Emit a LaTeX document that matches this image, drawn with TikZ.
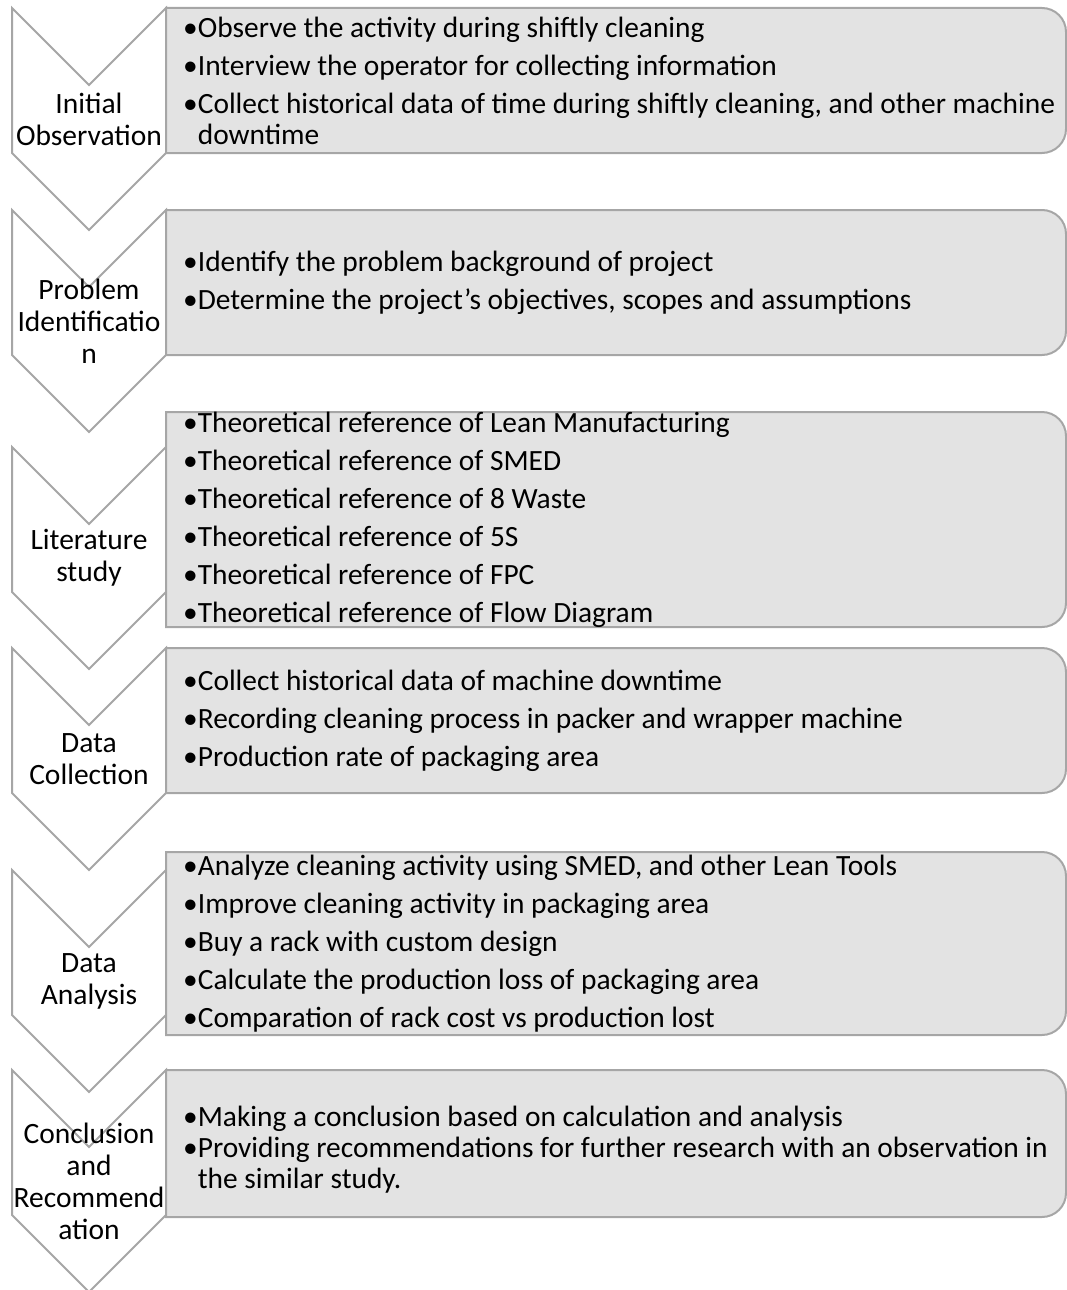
\documentclass[tikz,border=0pt]{standalone}
\usepackage{fontspec}
\setmainfont{Carlito}
\definecolor{edge}{HTML}{A6A6A6}
\definecolor{panel}{HTML}{E3E3E3}
\tikzset{
  stagetext/.style={align=center, font=\fontsize{29.5}{32}\selectfont, inner sep=0pt},
  items/.style={align=left, anchor=west, font=\fontsize{29.4}{31}\selectfont, inner sep=0pt},
  chev/.style={draw=edge, fill=white, line width=2pt, line join=miter},
  panelbox/.style={draw=edge, fill=panel, line width=2pt},
}
% one downward chevron: name, top edge (px from top), label
\newcommand\stagechevron[3]{%
  \draw[chev] (12,-#2) -- (89,-#2-77) -- (166,-#2) -- (166,-#2-145)
    -- (89,-#2-222) -- (12,-#2-145) -- cycle;
  \node[stagetext] (#1) at (89,-#2-111) {#3};
}
% one panel with rounded right corners: name, top, bottom, text offset, items
\newcommand\itempanel[5]{%
  \coordinate (#1-nw) at (166,-#2);
  \coordinate (#1-se) at (1066,-#3);
  \draw[panelbox] (#1-nw) -- (1042,-#2) arc[start angle=90,end angle=0,radius=24]
    -- (1066,-#3+24) arc[start angle=0,end angle=-90,radius=24]
    -- (#1-se -| #1-nw) -- cycle;
  \node[items] (#1) at (183,{-(#2+#3)/2-#4}) {#5};
}
\newcommand\itm{\textbullet}
\newcommand\cont{\phantom{\textbullet}}
\begin{document}
\begin{tikzpicture}[x=1pt,y=1pt]
\useasboundingbox (0,0) rectangle (1067,-1290);

\stagechevron{s1}{8}{Initial\\Observation}
\itempanel{p1}{8}{153}{0}{\itm Observe the activity during shiftly cleaning\\[7pt]
  \itm Interview the operator for collecting information\\[7pt]
  \itm Collect historical data of time during shiftly cleaning, and other machine\\
  \cont downtime}

\stagechevron{s2}{210}{Problem\\Identificatio\\n}
\itempanel{p2}{210}{355}{0}{\itm Identify the problem background of project\\[7pt]
  \itm Determine the project’s objectives, scopes and assumptions}

\stagechevron{s3}{447}{Literature\\study}
\itempanel{p3}{412}{627}{0}{\itm Theoretical reference of Lean Manufacturing\\[7pt]
  \itm Theoretical reference of SMED\\[7pt]
  \itm Theoretical reference of 8 Waste\\[7pt]
  \itm Theoretical reference of 5S\\[7pt]
  \itm Theoretical reference of FPC\\[7pt]
  \itm Theoretical reference of Flow Diagram}

\stagechevron{s4}{648}{Data\\Collection}
\itempanel{p4}{648}{793}{0}{\itm Collect historical data of machine downtime\\[7pt]
  \itm Recording cleaning process in packer and wrapper machine\\[7pt]
  \itm Production rate of packaging area}

\stagechevron{s5}{870}{Data\\Analysis}
\itempanel{p5}{852}{1035}{0}{\itm Analyze cleaning activity using SMED, and other Lean Tools\\[7pt]
  \itm Improve cleaning activity in packaging area\\[7pt]
  \itm Buy a rack with custom design\\[7pt]
  \itm Calculate the production loss of packaging area\\[7pt]
  \itm Comparation of rack cost vs production lost}

\stagechevron{s6}{1070}{Conclusion\\and\\Recommend\\ation}
\itempanel{p6}{1070}{1217}{6}{\itm Making a conclusion based on calculation and analysis\\
  \itm Providing recommendations for further research with an observation in\\
  \cont the similar study.}
\end{tikzpicture}
\end{document}
